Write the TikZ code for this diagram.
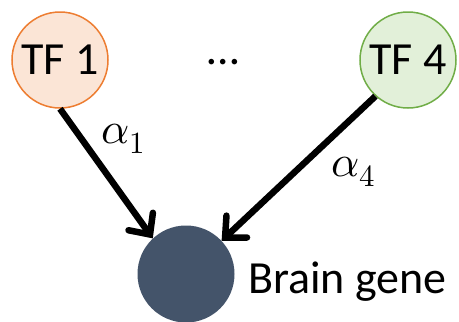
\documentclass[tikz,border=0pt]{standalone}
\usepackage{fontspec}
\usepackage{unicode-math}
\setmainfont{Carlito}
\setmathfont{Latin Modern Math}
\usepackage{tikz}
\usetikzlibrary{arrows.meta}

\definecolor{tfOneFill}{HTML}{FBE5D6}
\definecolor{tfOneLine}{HTML}{ED7D31}
\definecolor{tfFourFill}{HTML}{E2F0D9}
\definecolor{tfFourLine}{HTML}{70AD47}
\definecolor{geneFill}{HTML}{44546A}

\begin{document}
\begin{tikzpicture}[x=1pt, y=-1pt,
    tf/.style={circle, line width=1.5pt, minimum size=96pt, inner sep=0pt, font=\fontsize{46}{50}\selectfont},
    edge/.style={line width=6.5pt, -{Straight Barb[length=16pt, width=30pt, line cap=round]}}]
    % Fix the page size
    \useasboundingbox (0,0) rectangle (459,322);

    % Draw the nodes
    \node[tf, draw=tfOneLine, fill=tfOneFill] (tf1) at (60,60) {TF 1};
    \node[tf, draw=tfFourLine, fill=tfFourFill] (tf4) at (408,60) {TF 4};
    \node[circle, fill=geneFill, minimum size=97pt, inner sep=0pt] (gene) at (186,274) {};
    \node[anchor=base west, inner sep=0pt, font=\fontsize{46}{50}\selectfont] (genelabel) at (248,293) {Brain gene};
    \node[font=\fontsize{46}{50}\selectfont] (dots) at (223,62) {\ldots};

    % Add the arrows and weights
    \draw[edge] (tf1.270) -- (gene.133);
    \draw[edge] (tf4.228) -- (gene.43);
    \node[anchor=base west, inner sep=0pt, font=\fontsize{44}{48}\selectfont] (alphaOne) at (101,143) {$\alpha_1$};
    \node[anchor=base west, inner sep=0pt, font=\fontsize{44}{48}\selectfont] (alphaFour) at (331,176) {$\alpha_4$};
\end{tikzpicture}
\end{document}
